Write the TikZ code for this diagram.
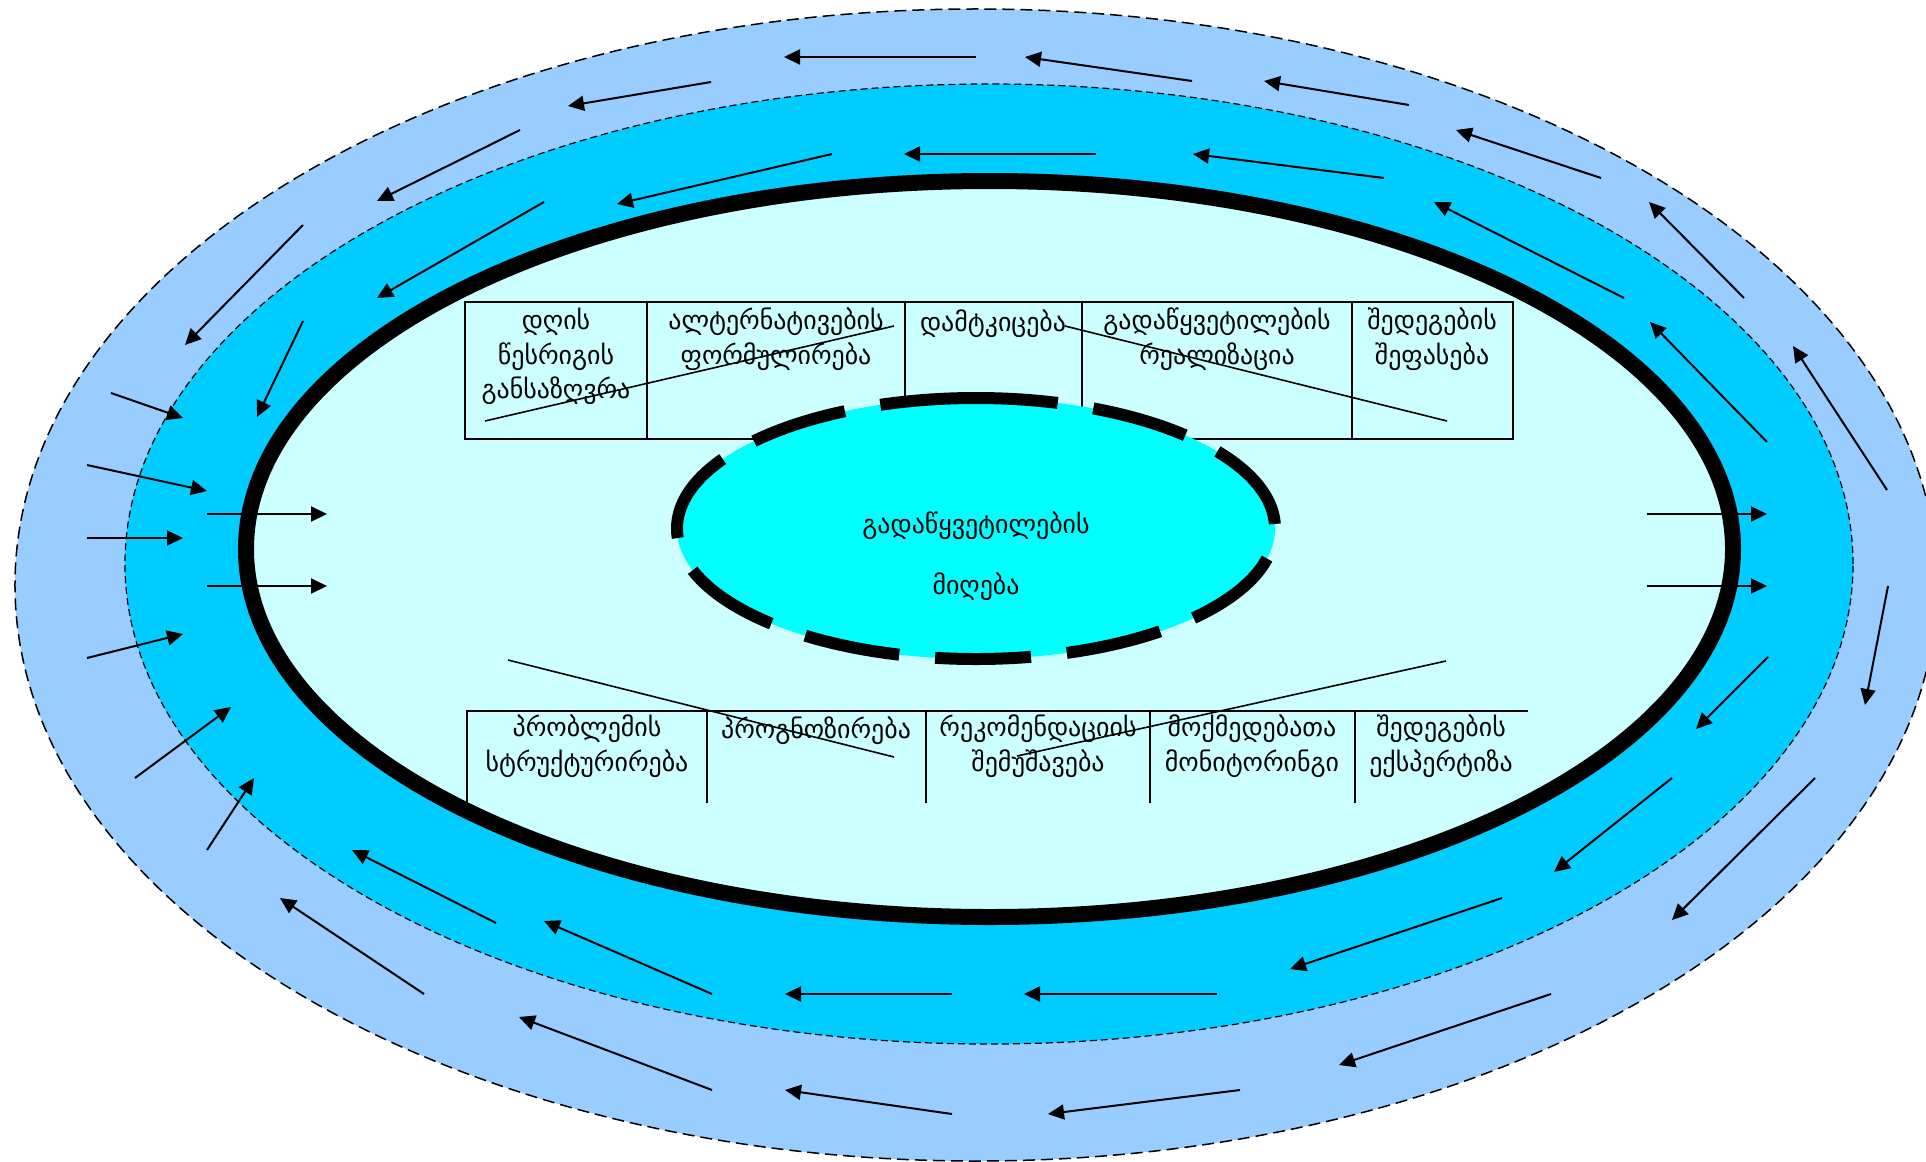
\documentclass[tikz,border=0pt]{standalone}
\usepackage{fontspec}
\newfontfamily\geo{DejaVu Sans}
\usetikzlibrary{arrows.meta}
\definecolor{outerblue}{HTML}{99CCFF}
\definecolor{midblue}{HTML}{00CCFF}
\definecolor{innercyan}{HTML}{CCFFFF}
\definecolor{corecyan}{HTML}{00FFFF}
\tikzset{
    flow/.style = {draw=black, line width=2bp, -{Triangle[length=16bp,width=15bp]}},
    grid-line/.style = {draw=black, line width=1.2bp},
    cross-line/.style = {draw=black, line width=1.6bp},
    cell-text/.style = {font=\geo\fontsize{26}{35}\selectfont, align=center, anchor=north, inner sep=0pt,
                        execute at begin node={\rule{0pt}{24bp}}},
}

\begin{document}
\begin{tikzpicture}[x=1bp, y=-1bp]
\useasboundingbox (0,0) rectangle (1926,1161);

% rings
\filldraw[fill=outerblue, line width=1.5bp, dash pattern=on 12bp off 6bp] (976,585) ellipse [x radius=961bp, y radius=576bp];
\filldraw[fill=midblue, line width=1.2bp, dash pattern=on 7bp off 4bp] (989,564) ellipse [x radius=864bp, y radius=480bp];
\filldraw[fill=innercyan, line width=16bp] (989.5,549) ellipse [x radius=743.5bp, y radius=368bp];

% upper table
\draw[grid-line] (465,302) rectangle (1513,439);
\foreach \x in {647,905,1082,1352}
    \draw[grid-line] (\x,302) -- (\x,439);
\node[cell-text] (agenda) at (556,307.5) {დღის\\წესრიგის\\განსაზღვრა};
\node[cell-text] (alternatives) at (776,307.5) {ალტერნატივების\\ფორმულირება};
\node[cell-text] (approval) at (993,307.5) {დამტკიცება};
\node[cell-text] (realisation) at (1217,307.5) {გადაწყვეტილების\\რეალიზაცია};
\node[cell-text] (evaluation) at (1432,307.5) {შედეგების\\შეფასება};

% lower table
\draw[grid-line] (467,803) -- (467,711) -- (1528,711);
\foreach \x in {707,926,1150,1355}
    \draw[grid-line] (\x,711) -- (\x,803);
\node[cell-text] (structuring) at (587,714.5) {პრობლემის\\სტრუქტურირება};
\node[cell-text] (forecast) at (816,714.5) {პროგნოზირება};
\node[cell-text] (recommend) at (1038,714.5) {რეკომენდაციის\\შემუშავება};
\node[cell-text] (monitoring) at (1252,714.5) {მოქმედებათა\\მონიტორინგი};
\node[cell-text] (expertise) at (1441,714.5) {შედეგების\\ექსპერტიზა};

% lines across the tables
\draw[cross-line] (485,421) -- (894,326);
\draw[cross-line] (1065,326) -- (1447,421);
\draw[cross-line] (508,660) -- (894,757);
\draw[cross-line] (1446,661) -- (1017,756);

% core
\filldraw[fill=corecyan, line width=12bp, dash pattern=on 96bp off 36bp]
    (976,398) arc [start angle=90, end angle=450, x radius=299bp, y radius=130.5bp];
\node[cell-text, font=\geo\fontsize{26}{61}\selectfont] (decision) at (976,511.5) {გადაწყვეტილების\\მიღება};

% arrows, outer ring
\foreach \ax/\ay/\bx/\by in {976/57/784/57, 711/82/568/106, 520/130/377/201, 303/225/185/345,
    111/393/183/418, 87/465/207/491, 87/538/183/538, 87/658/183/634, 135/778/231/707,
    207/850/254/778, 1192/81/1025/57, 1409/105/1264/81, 1601/178/1456/130,
    1744/298/1649/202, 1887/490/1793/346, 1888/586/1865/705, 1815/778/1672/920,
    1551/994/1339/1065, 1240/1090/1048/1114, 952/1114/785/1090, 712/1090/519/1017,
    424/994/280/898}
    \draw[flow] (\ax,\ay) -- (\bx,\by);

% arrows, middle ring
\foreach \ax/\ay/\bx/\by in {303/321/257/417, 207/514/327/514, 207/586/327/586,
    544/202/377/298, 832/154/617/204, 1096/154/904/154, 1384/178/1193/154,
    1624/298/1434/202, 1767/442/1650/322, 1647/514/1767/514, 1647/586/1767/586,
    1768/657/1696/729, 1672/778/1554/872, 1502/898/1290/969, 1217/994/1024/994,
    952/994/785/994, 712/994/544/921, 496/923/352/850}
    \draw[flow] (\ax,\ay) -- (\bx,\by);
\end{tikzpicture}
\end{document}
